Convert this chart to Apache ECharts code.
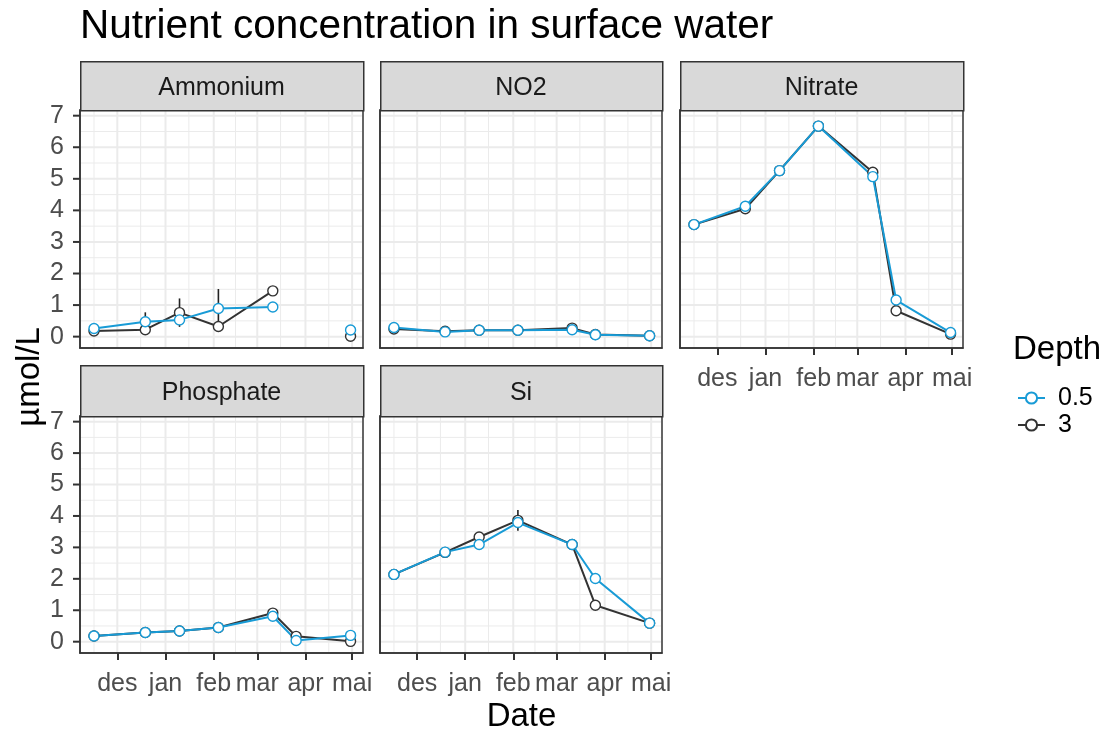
<!DOCTYPE html>
<html>
<head>
<meta charset="utf-8">
<script src="https://cdn.jsdelivr.net/npm/echarts@6/dist/echarts.min.js"></script>
<style>html,body{margin:0;padding:0;background:#fff;}#chart{width:1112px;height:729px;}</style>
</head>
<body>
<div id="chart"></div>
<script>
// ---------------- data ----------------
const DATES = ['2022-11-16','2022-12-19','2023-01-10','2023-02-04','2023-03-11','2023-03-26','2023-04-30'];
const PANELS = ['Ammonium','NO2','Nitrate','Phosphate','Si'];
const DEPTHS = ['0.5','3'];

const AMMONIUM_05 = [0.26, 0.47, 0.53, 0.89, 0.94, null, 0.21];
const AMMONIUM_3  = [0.18, 0.22, 0.76, 0.32, 1.45, null, 0.01];
const NO2_05      = [0.29, 0.15, 0.20, 0.20, 0.22, 0.06, 0.03];
const NO2_3       = [0.24, 0.17, 0.20, 0.20, 0.27, 0.07, 0.03];
const NITRATE_05  = [3.55, 4.13, 5.26, 6.67, 5.07, 1.16, 0.13];
const NITRATE_3   = [3.55, 4.05, 5.26, 6.67, 5.21, 0.82, 0.08];
const PHOSPHATE_05= [0.18, 0.29, 0.34, 0.45, 0.81, 0.04, 0.20];
const PHOSPHATE_3 = [0.18, 0.29, 0.34, 0.45, 0.91, 0.17, 0.01];
const SI_05       = [2.14, 2.85, 3.09, 3.79, 3.09, 2.01, 0.59];
const SI_3        = [2.14, 2.84, 3.33, 3.86, 3.09, 1.16, 0.59];

// standard deviations (only those visible in the picture)
const AMMONIUM_05_SD = [null, 0.30, null, 0.62, null, null, null];
const AMMONIUM_3_SD  = [null, null, 0.45, null, null, null, null];
const SI_3_SD        = [null, null, null, 0.33, null, null, null];

const Y_BREAKS = [0,1,2,3,4,5,6,7];
const Y_MINOR  = [0.5,1.5,2.5,3.5,4.5,5.5,6.5];
const Y_MIN = -0.36, Y_MAX = 7.18;
const MONTH_BREAKS = ['2022-12-01','2023-01-01','2023-02-01','2023-03-01','2023-04-01','2023-05-01'];
const MONTH_LABELS = ['des','jan','feb','mar','apr','mai'];
const MONTH_MINOR  = ['2022-11-16','2022-12-16','2023-01-16','2023-02-15','2023-03-16','2023-04-16'];
const X_MIN = '2022-11-07', X_MAX = '2023-05-08';

const SERIES_VALUES = {
  Ammonium:  {'0.5': AMMONIUM_05,  '3': AMMONIUM_3},
  NO2:       {'0.5': NO2_05,       '3': NO2_3},
  Nitrate:   {'0.5': NITRATE_05,   '3': NITRATE_3},
  Phosphate: {'0.5': PHOSPHATE_05, '3': PHOSPHATE_3},
  Si:        {'0.5': SI_05,        '3': SI_3}
};
const SERIES_SD = {
  Ammonium: {'0.5': AMMONIUM_05_SD, '3': AMMONIUM_3_SD},
  Si: {'3': SI_3_SD}
};

// ---------------- layout / style ----------------
const COLORS = {'0.5': '#189BD6', '3': '#333333'};
const FONT = "'Liberation Sans', Arial, sans-serif";
const GRIDS = [
  [80, 110, 283, 238], [380, 110, 282, 238], [680, 110, 283, 238],
  [80, 416, 283, 237], [380, 416, 282, 237]
];
const STRIPS = [
  [80, 61, 283, 49], [380, 61, 282, 49], [680, 61, 283, 49],
  [80, 365, 283, 51], [380, 365, 282, 51]
];
const SHOW_X = [false, false, true, true, true];
const SHOW_Y = [true, false, false, true, false];

// dates -> epoch ms (x axis is a numeric date axis)
function ms(s) { const p = s.split('-').map(Number); return Date.UTC(p[0], p[1]-1, p[2]); }
const xMin = ms(X_MIN), xMax = ms(X_MAX);
const monthMs = MONTH_BREAKS.map(ms);

const grid = [], xAxis = [], yAxis = [], series = [], graphic = [];

const gridData = [];
Y_BREAKS.forEach(v => gridData.push([xMin, v, 0, 1]));
Y_MINOR.forEach(v => gridData.push([xMin, v, 0, 0]));
MONTH_BREAKS.forEach(d => gridData.push([ms(d), 0, 1, 1]));
MONTH_MINOR.forEach(d => gridData.push([ms(d), 0, 1, 0]));
const yTickData = Y_BREAKS.map(v => [xMin, v]);

function renderGrid(params, api) {
  const cs = params.coordSys;
  const dir = api.value(2), major = api.value(3);
  const style = {stroke: '#EBEBEB', lineWidth: major ? 2 : 1};
  if (dir === 0) {
    const y = api.coord([api.value(0), api.value(1)])[1];
    return {type: 'line', shape: {x1: cs.x + 1, y1: y, x2: cs.x + cs.width - 1, y2: y}, style};
  }
  const x = api.coord([api.value(0), api.value(1)])[0];
  return {type: 'line', shape: {x1: x, y1: cs.y + 1, x2: x, y2: cs.y + cs.height - 1}, style};
}
function renderYTick(params, api) {
  const cs = params.coordSys;
  const y = api.coord([api.value(0), api.value(1)])[1];
  return {type: 'line', shape: {x1: cs.x - 7, y1: y, x2: cs.x, y2: y}, style: {stroke: '#333333', lineWidth: 2}};
}
function renderErr(params, api) {
  const p1 = api.coord([api.value(0), api.value(1)]);
  const p2 = api.coord([api.value(0), api.value(2)]);
  return {type: 'line', shape: {x1: p1[0], y1: p1[1], x2: p2[0], y2: p2[1]}, style: {stroke: '#222222', lineWidth: 1.6}};
}

PANELS.forEach((name, i) => {
  const g = GRIDS[i];
  grid.push({left: g[0], top: g[1], width: g[2], height: g[3], show: true,
    backgroundColor: '#ffffff', borderColor: '#333333', borderWidth: 1.5, containLabel: false, outerBoundsMode: 'none'});
  xAxis.push({
    type: 'value', gridIndex: i, min: xMin, max: xMax, scale: true,
    axisLine: {show: true, onZero: false, lineStyle: {color: '#333333', width: 1.5}}, splitLine: {show: false},
    axisTick: {show: SHOW_X[i], customValues: monthMs, length: 7, lineStyle: {color: '#333333', width: 2}},
    axisLabel: {show: SHOW_X[i], customValues: monthMs, fontSize: 25, color: '#4D4D4D', fontFamily: FONT, margin: 19,
      hideOverlap: false,
      formatter: v => { const k = monthMs.indexOf(v); return k >= 0 ? MONTH_LABELS[k] : ''; }}
  });
  yAxis.push({
    type: 'value', gridIndex: i, min: Y_MIN, max: Y_MAX,
    axisLine: {show: true, onZero: false, lineStyle: {color: '#333333', width: 1.5}}, splitLine: {show: false},
    axisTick: {show: false},
    axisLabel: {show: SHOW_Y[i], customValues: Y_BREAKS, fontSize: 25, color: '#4D4D4D', fontFamily: FONT, margin: 16}
  });
  series.push({type: 'custom', name: 'grid' + i, xAxisIndex: i, yAxisIndex: i, silent: true, z: 1,
    renderItem: renderGrid, data: gridData});
  if (SHOW_Y[i]) series.push({type: 'custom', name: 'ytick' + i, xAxisIndex: i, yAxisIndex: i, silent: true, z: 5,
    clip: false, renderItem: renderYTick, data: yTickData});

  const sdSet = SERIES_SD[name] || {};
  const errData = [];
  DEPTHS.forEach(dep => {
    const sd = sdSet[dep];
    if (!sd) return;
    sd.forEach((s, k) => {
      const v = SERIES_VALUES[name][dep][k];
      if (s != null && v != null) errData.push([ms(DATES[k]), v - s, v + s]);
    });
  });
  if (errData.length) series.push({type: 'custom', name: 'err' + i, xAxisIndex: i, yAxisIndex: i, silent: true, z: 2,
    renderItem: renderErr, data: errData});

  ['3', '0.5'].forEach(dep => {
    series.push({
      type: 'line', name: dep, xAxisIndex: i, yAxisIndex: i, z: 3,
      data: SERIES_VALUES[name][dep].map((v, k) => [ms(DATES[k]), v == null ? '-' : v]),
      showSymbol: false, symbol: 'emptyCircle', symbolSize: 10, connectNulls: false,
      lineStyle: {color: COLORS[dep], width: 2}, itemStyle: {color: COLORS[dep]}
    });
  });
  ['3', '0.5'].forEach(dep => {
    series.push({
      type: 'scatter', name: dep, xAxisIndex: i, yAxisIndex: i, z: 4,
      data: SERIES_VALUES[name][dep].map((v, k) => [ms(DATES[k]), v == null ? '-' : v]),
      symbol: 'circle', symbolSize: 10,
      itemStyle: {color: '#ffffff', borderColor: COLORS[dep], borderWidth: 1.4, opacity: 1}
    });
  });

  const s = STRIPS[i];
  graphic.push({type: 'rect', left: s[0], top: s[1], shape: {width: s[2], height: s[3]},
    style: {fill: '#D9D9D9', stroke: '#333333', lineWidth: 1.5}, z: 10});
  graphic.push({type: 'text', x: s[0] + s[2] / 2, y: s[1] + s[3] / 2 + 3,
    style: {text: name, fontSize: 25, fill: '#1A1A1A', fontFamily: FONT, textAlign: 'center', textVerticalAlign: 'middle'}, z: 11});
});

graphic.push({type: 'text', x: 80, y: 27, style: {text: 'Nutrient concentration in surface water', fontSize: 40.5, fill: '#000', fontFamily: FONT, textAlign: 'left', textVerticalAlign: 'middle'}});
graphic.push({type: 'text', x: 521.5, y: 717, style: {text: 'Date', fontSize: 33, fill: '#000', fontFamily: FONT, textAlign: 'center', textVerticalAlign: 'middle'}});
graphic.push({type: 'text', x: 30, y: 377, rotation: Math.PI / 2, style: {text: 'µmol/L', fontSize: 33, fill: '#000', fontFamily: FONT, textAlign: 'center', textVerticalAlign: 'middle'}});
graphic.push({type: 'text', x: 1013, y: 350, style: {text: 'Depth', fontSize: 33, fill: '#000', fontFamily: FONT, textAlign: 'left', textVerticalAlign: 'middle'}});

const chart = echarts.init(document.getElementById('chart'), null, {renderer: 'canvas'});
chart.setOption({
  animation: false,
  backgroundColor: '#ffffff',
  textStyle: {fontFamily: FONT},
  grid, xAxis, yAxis, series, graphic,
  legend: {
    data: DEPTHS, orient: 'vertical', left: 1012, top: 380, itemWidth: 27, itemHeight: 14, itemGap: 1,
    selectedMode: false,
    textStyle: {fontSize: 25, color: '#000', fontFamily: FONT, lineHeight: 26, padding: [0, 0, 0, 8]}
  }
});
</script>
</body>
</html>
